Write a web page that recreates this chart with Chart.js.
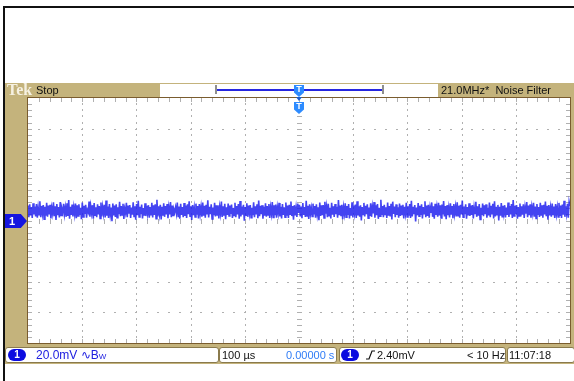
<!DOCTYPE html>
<html>
<head>
<meta charset="utf-8">
<script src="https://cdn.jsdelivr.net/npm/chart.js@4.4.1/dist/chart.umd.min.js"></script>
<style>
  html, body { margin: 0; padding: 0; background: #fff; }
  #scope { position: relative; width: 574px; height: 381px; overflow: hidden;
           font-family: "Liberation Sans", Arial, sans-serif; }
  .abs { position: absolute; white-space: nowrap; }
  #bezel { left: 5px; top: 83px; width: 569px; height: 281px; background: #c4b37c; }
  #plotbg { left: 27px; top: 97px; width: 542px; height: 245px; background: #fff; border: 1px solid #7a5c2e; }
  canvas#scr { position: absolute; left: 0; top: 0; }
  .hdr { top: 84px; font-size: 11px; line-height: 13px; color: #111; }
  .box { top: 347px; height: 14px; background: #fff; border: 1px solid #8a7a4c; border-radius: 3px; }
  .st { top: 347px; font-size: 11px; line-height: 16px; color: #111; }
  .pill { top: 349px; width: 18px; height: 12px; border-radius: 6px; background: #0c0ce0;
          color: #fff; font-size: 10px; line-height: 12px; text-align: center; font-weight: bold; }
  .trig { width: 10px; height: 12px; background: #2d8bff; color: #fff; font-size: 9px; line-height: 9px;
          font-weight: bold; text-align: center;
          clip-path: polygon(0 0, 100% 0, 100% 62%, 50% 100%, 0 62%); }
</style>
</head>
<body>
<div id="scope">
  <!-- outer frame -->
  <div class="abs" style="left:3px;top:6px;width:571px;height:2px;background:#111"></div>
  <div class="abs" style="left:3px;top:6px;width:2px;height:375px;background:#111"></div>
  <div class="abs" id="bezel"></div>
  <div class="abs" id="plotbg"></div>

  <canvas id="scr" width="574" height="381"></canvas>

  <!-- header strip -->
  <div class="abs" style="left:7px;top:81px;font-family:'Liberation Serif',serif;font-weight:bold;font-size:16px;line-height:17px;color:#f6f1e2">Tek</div>
  <div class="abs hdr" style="left:36px">Stop</div>
  <div class="abs" style="left:160px;top:84px;width:278px;height:13px;background:#fff"></div>
  <div class="abs" style="left:215px;top:85px;width:165px;height:9px;border-left:2px solid #8e8e8e;border-right:2px solid #8e8e8e"></div>
  <div class="abs" style="left:217px;top:89px;width:165px;height:2px;background:#2626e0"></div>
  <div class="abs hdr" style="left:441px">21.0MHz*&nbsp; Noise Filter</div>

  <!-- trigger position markers -->
  <div class="abs trig" style="left:294px;top:85px">T</div>
  <div class="abs" style="left:296px;top:97px;width:6px;height:4px;background:#1c5fd0;clip-path:polygon(0 0,100% 0,50% 100%)"></div>
  <div class="abs trig" style="left:294px;top:102px">T</div>

  <!-- channel 1 ground marker -->
  <div class="abs" style="left:5px;top:214px;width:22px;height:14px;background:#1515e0;clip-path:polygon(0 0,72% 0,100% 50%,72% 100%,0 100%)"></div>
  <div class="abs" style="left:9px;top:214px;color:#fff;font-size:11px;line-height:14px;font-weight:bold">1</div>

  <!-- status bar -->
  <div class="abs box" style="left:5px;width:212px"></div>
  <div class="abs box" style="left:219px;width:116px"></div>
  <div class="abs box" style="left:339px;width:165px"></div>
  <div class="abs box" style="left:507px;width:66px"></div>
  <div class="abs pill" style="left:8px">1</div>
  <div class="abs st" style="left:36px;font-size:12px;color:#2020e0">20.0mV ∿B<span style="font-size:8px">W</span></div>
  <div class="abs st" style="left:222px">100 µs</div>
  <div class="abs st" style="left:286px;color:#2f7cf6">0.00000 s</div>
  <div class="abs pill" style="left:341px">1</div>
  <svg class="abs" style="left:366px;top:350px" width="9" height="10"><polyline points="0,9 3,9 6,1 9,1" fill="none" stroke="#111" stroke-width="1.2"/></svg>
  <div class="abs st" style="left:377px">2.40mV</div>
  <div class="abs st" style="left:467px">&lt; 10 Hz</div>
  <div class="abs st" style="left:509px">11:07:18</div>
</div>

<script>
// Acquisition settings
const timePerDivUs = 100;          // horizontal scale, µs/div
const voltsPerDivMv = 20;          // vertical scale, mV/div
const horizDivs = 10;
const vertDivs = 8;
const minorPerDiv = 5;

// Channel 1 record (mV), left to right across the screen
const ch1Mv = [
  9.8, 2.1, 10.5, 3.4, 8.7, 1.6, 11.2, 4.0, 9.1, 2.7, 10.8, 1.9, 8.4, 3.8, 12.6, 2.2, 9.5, 4.4, 10.1, 0.8,
  8.9, 3.1, 11.6, 2.5, 9.7, 3.9, 10.3, 1.4, 8.2, 4.6, 11.9, 2.8, 9.3, 0.3, 10.7, 3.5, 8.8, 2.0, 12.1, 3.3,
  7.6, 5.2, 10.9, 4.2, 8.5, 2.4, 11.3, 3.0, 13.4, 1.2, 9.0, 3.7, 10.4, 2.6, 8.6, 4.1, 11.1, 1.5, 9.9, 2.9,
  10.6, 3.6, 8.3, 0.9, 11.8, 2.3, 9.6, 4.3, 10.2, 1.8, 6.9, 5.4, 12.4, 2.5, 9.2, 4.8, 10.0, 1.1, 11.4, 3.4,
  8.7, 2.2, 10.6, 3.9, 9.5, 1.3, 11.7, 2.7, 8.9, 4.5, 10.3, 2.0, 13.1, 3.1, 9.1, 1.6, 10.8, 4.0, 8.4, -0.4,
  11.0, 3.3, 9.8, 2.4, 10.5, 1.9, 8.6, 4.2, 12.2, 2.8, 9.4, 3.6, 10.9, 1.0, 7.8, 5.0, 11.5, 2.1, 9.7, 4.4,
  10.1, 1.7, 8.5, 3.8, 11.9, 2.6, 9.3, 0.6, 10.7, 3.5, 12.8, 2.3, 9.0, 4.1, 10.4, 1.4, 8.2, 3.2, 11.2, 2.9,
  9.6, 4.6, 10.0, 1.8, 8.7, 3.4, 11.6, 2.0, 9.9, 3.7, 10.6, 1.2, 13.6, 2.7, 9.2, 4.3, 10.2, 0.7, 8.9, 3.1,
  11.3, 2.4, 9.5, 3.9, 10.8, 1.5, 8.4, 4.0, 12.0, 2.2, 9.8, 3.3, 7.4, 5.6, 8.6, 4.7, 11.7, 2.6, 9.1, 1.1,
  10.9, 3.6, 8.8, 2.1, 11.4, 3.0, 9.7, 1.6, 10.5, 4.2, 12.5, 2.8, 9.3, 0.4, 10.1, 3.5, 8.3, 2.3, 11.0, 3.8,
  9.4, 1.3, 10.7, 4.4, 8.9, 2.5, 11.8, 3.2, 9.6, 1.8, 10.2, 3.9, 13.2, 2.0, 9.0, 4.1, 10.6, 1.0, 8.5, 3.4,
  11.5, 2.7, 9.9, 3.7, 10.0, 1.4, 8.7, 4.5, 12.3, 2.3, 9.2, 3.1, 10.9, 0.9, 8.6, 3.6, 11.1, 2.9, 9.8, 4.3,
  10.4, 1.7, 8.2, 3.3, 11.6, 2.1, 9.5, 4.0, 10.8, 1.2, 12.7, 2.6, 9.1, 3.8, 10.3, -0.2, 8.8, 3.0, 11.3, 2.4,
  9.7, 4.6, 10.1, 1.9, 8.4, 3.5, 11.9, 2.2, 9.3, 3.9, 10.6, 1.5, 13.0, 2.8, 9.6, 4.2, 10.0, 1.1, 8.9, 3.2,
  11.2, 2.5, 9.4, 3.7, 10.7, 1.6, 8.5, 4.4, 12.1, 2.0, 9.9, 3.4, 10.4, 1.8, 8.7, 4.8, 11.5, 2.6, 9.0, 1.3,
  10.8, 3.6, 8.6, 2.2, 11.7, 3.1, 9.8, 1.7, 10.2, 4.1, 12.4, 2.9, 9.5, 0.5, 10.0, 3.3, 8.3, 2.4, 11.1, 4.9,
  10.2, 2.6, 9.1, 1.5, 11.4, 3.7, 8.8, 2.3, 12.9, 3.0, 9.6, 1.0, 10.6, 4.3, 8.1, 2.7, 11.0, 3.9, 9.4, 1.8,
  10.5, 4.0, 8.7, 0.2, 11.8, 2.9, 9.9, 3.5, 10.1, 1.6, 12.2, 4.5, 9.0, 2.1, 10.9, 3.2, 8.4, 1.3, 11.6, 3.8,
  9.3, 2.4, 10.7, 4.1, 8.9, 1.9, 13.3, 3.4, 9.7, 2.8, 10.3, 0.8, 8.6, 4.4, 11.2, 2.2, 9.5, 3.6, 10.8, 1.4,
  8.2, 3.1, 11.9, 2.0, 9.8, 4.7, 10.4, 1.7, 12.6, 3.3, 9.2, 2.5, 10.0, 0.1, 8.8, 3.9, 11.5, 2.7, 9.6, 4.2,
  10.6, 1.5, 8.5, 3.0, 11.3, 2.4, 9.0, 4.6, 12.0, 1.9, 9.9, 3.5, 10.7, 1.1, 8.3, 2.8, 13.5, 3.7, 9.4, 2.1,
  10.2, 4.0, 8.7, 1.6, 11.7, 3.2, 9.5, 2.6, 10.9, 0.6, 12.3, 4.3, 9.1, 2.2, 10.5, 3.6, 8.6, 1.8, 11.1, 2.9,
  9.7, 3.9, 10.3, 1.3, 8.9, 4.5, 11.6, 2.3, 9.3, 3.1, 10.8, 1.7, 12.8, 2.6, 9.0, 4.1, 10.1, -0.6, 8.4, 3.4,
  11.4, 2.8, 9.6, 3.6, 10.6, 1.4, 8.8, 4.4, 12.5, 2.1, 9.8, 3.0, 10.2, 1.9, 8.5, 4.9, 11.8, 2.4, 9.2, 1.2,
  10.9, 3.7, 8.6, 2.5, 11.5, 3.3, 9.9, 1.6, 10.4, 4.0, 12.7, 2.7, 9.4, 0.9, 10.0, 3.5, 8.2, 2.0, 11.2, 3.8,
  9.5, 1.5, 10.7, 4.3, 8.9, 2.6, 11.9, 3.1, 9.7, 1.8, 10.3, 3.9, 13.1, 2.2, 9.1, 4.2, 10.6, 1.1, 8.7, 3.3,
  11.3, 2.9, 9.8, 3.7, 10.1, 1.3, 8.6, 4.6, 12.2, 2.4, 9.3, 3.2, 10.8, 0.7, 8.4, 3.6, 11.0, 2.8, 9.9, 4.1,
  10.5, 1.9, 8.3, 3.4, 11.7, 2.2, 9.6, 4.0, 10.9, 1.4, 12.6, 2.7, 9.0, 3.8, 10.2, 0.0, 8.9, 3.1, 11.4, 2.5,
  9.6, 4.5, 10.0, 2.0, 8.5, 3.6, 11.8, 2.3, 9.4, 3.9, 10.7, 1.6, 13.3, 2.9, 9.7, 4.3, 10.1, 1.2, 8.8, 3.0,
  11.1, 2.6, 9.3, 3.8, 10.6, 1.7, 8.6, 4.4, 12.0, 2.1, 9.8, 3.5, 10.5, 1.9, 8.8, 4.7, 11.6, 2.5, 9.1, 1.4,
  10.7, 3.7, 8.7, 2.3, 11.6, 3.2, 9.9, 1.8, 10.3, 4.0, 12.3, 2.8, 9.6, 0.6, 10.1, 3.4, 8.4, 2.5, 11.0, 3.9,
  9.2, 1.6, 10.8, 4.2, 8.6, 2.3, 11.5, 3.0, 9.7, 1.7, 10.4, 3.8, 12.9, 2.4, 9.3, 4.5, 10.9, 1.9, 12.2, 9.4
];

const tMin = -timePerDivUs * horizDivs / 2;
const tMax = timePerDivUs * horizDivs / 2;
const vMin = -voltsPerDivMv * vertDivs / 2;
const vMax = voltsPerDivMv * vertDivs / 2;

// sample times spread evenly over the record length
const dt = (tMax - tMin) / (ch1Mv.length - 1);
const ch1Points = ch1Mv.map((v, i) => ({ x: tMin + i * dt, y: v }));

// Dotted graticule with centre cross and edge tick marks
const graticule = {
  id: 'graticule',
  beforeDatasetsDraw(chart) {
    const { ctx, chartArea: a, scales: { x, y } } = chart;
    const xs = [], ys = [];
    const nx = horizDivs * minorPerDiv, ny = vertDivs * minorPerDiv;
    for (let i = 0; i <= nx; i++) xs.push(Math.round(x.getPixelForValue(tMin + i * timePerDivUs / minorPerDiv)));
    for (let j = 0; j <= ny; j++) ys.push(Math.round(y.getPixelForValue(vMin + j * voltsPerDivMv / minorPerDiv)));
    ctx.save();
    ctx.fillStyle = '#b0b0b0';
    // major vertical lines, dotted
    for (let i = minorPerDiv; i < nx; i += minorPerDiv) {
      if (i === nx / 2) continue;
      for (let j = 1; j < ny; j++) ctx.fillRect(xs[i], ys[j] - 1, 1, 2);
    }
    // major horizontal lines, dotted
    for (let j = minorPerDiv; j < ny; j += minorPerDiv) {
      if (j === ny / 2) continue;
      for (let i = 1; i < nx; i++) ctx.fillRect(xs[i] - 1, ys[j], 2, 1);
    }
    // centre cross
    const cx = xs[nx / 2], cy = ys[ny / 2];
    for (let j = 1; j < ny; j++) ctx.fillRect(cx - 2, ys[j], 5, 1);
    for (let i = 1; i < nx; i++) ctx.fillRect(xs[i], cy - 2, 1, 5);
    // edge ticks
    for (let i = 1; i < nx; i++) {
      ctx.fillRect(xs[i], a.top, 1, 4);
      ctx.fillRect(xs[i], a.bottom - 4, 1, 4);
    }
    for (let j = 1; j < ny; j++) {
      ctx.fillRect(a.left, ys[j], 4, 1);
      ctx.fillRect(a.right - 4, ys[j], 4, 1);
    }
    ctx.restore();
  }
};

new Chart(document.getElementById('scr'), {
  type: 'line',
  data: {
    datasets: [{
      label: 'CH1',
      data: ch1Points,
      borderColor: 'rgba(34, 34, 238, 0.85)',
      borderWidth: 1.6,
      pointRadius: 0,
      tension: 0
    }]
  },
  options: {
    responsive: false,
    devicePixelRatio: 1,
    animation: false,
    layout: { padding: { left: 28, top: 98, right: 4, bottom: 38 } },
    plugins: { legend: { display: false }, tooltip: { enabled: false } },
    scales: {
      x: { type: 'linear', min: tMin, max: tMax, display: false },
      y: { type: 'linear', min: vMin, max: vMax, display: false }
    }
  },
  plugins: [graticule]
});
</script>
</body>
</html>
